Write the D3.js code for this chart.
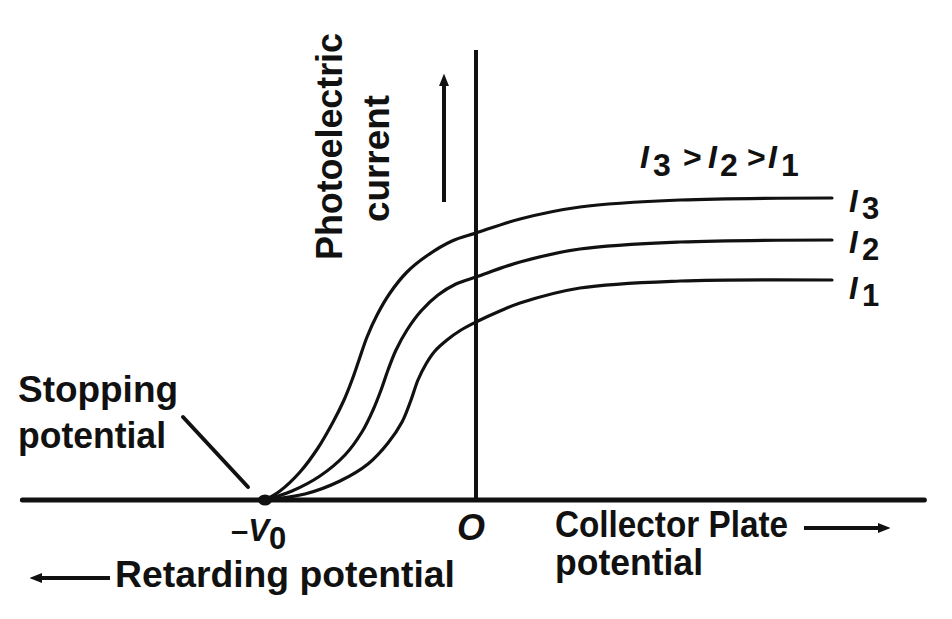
<!DOCTYPE html>
<html>
<head>
<meta charset="utf-8">
<script src="https://cdn.jsdelivr.net/npm/d3@7"></script>
<style>
  html, body { margin: 0; padding: 0; background: #fff; }
  svg { display: block; }
  text { font-family: "Liberation Sans", Arial, Helvetica, sans-serif; font-weight: bold; fill: #111; }
</style>
</head>
<body>
<svg id="chart" width="952" height="619"></svg>
<script>
// ---- data (voltage in units of V0/2, current in arbitrary units) ----
const seriesNames = ["I3", "I2", "I1"];
const voltageI3 = [-2, -1.858, -1.668, -1.498, -1.355, -1.251, -1.175, -1.109, -1.033, -0.938, -0.815, -0.654, -0.455, -0.227, 0, 0.417, 0.986, 1.934, 3.374];
const currentI3 = [0, 0.09, 0.28, 0.52, 0.78, 1.00, 1.20, 1.40, 1.63, 1.85, 2.07, 2.28, 2.45, 2.59, 2.67, 2.81, 2.93, 3.00, 3.02];
const voltageI2 = [-2, -1.744, -1.479, -1.242, -1.081, -0.976, -0.900, -0.834, -0.758, -0.654, -0.521, -0.360, -0.190, 0, 0.417, 0.986, 1.934, 3.374];
const currentI2 = [0, 0.09, 0.24, 0.45, 0.68, 0.90, 1.10, 1.30, 1.50, 1.70, 1.89, 2.05, 2.16, 2.23, 2.38, 2.51, 2.58, 2.60];
const voltageI1 = [-2, -1.621, -1.289, -1.024, -0.834, -0.701, -0.616, -0.550, -0.474, -0.389, -0.275, -0.142, 0, 0.227, 0.417, 0.986, 1.934, 3.374];
const currentI1 = [0, 0.06, 0.19, 0.36, 0.57, 0.78, 1.00, 1.20, 1.36, 1.49, 1.60, 1.70, 1.78, 1.89, 1.97, 2.12, 2.19, 2.20];
const stoppingVoltage = -2;
const xAxisExtent = [-4.3, 4.25];
const yAxisExtent = [0, 4.5];

const svg = d3.select("#chart");
const x = d3.scaleLinear().domain([-2, 0]).range([265, 476]);
const y = d3.scaleLinear().domain([0, 1]).range([500, 400]);

const defs = svg.append("defs");
defs.append("marker").attr("id", "head")
  .attr("viewBox", "0 0 10 10").attr("refX", 5).attr("refY", 5)
  .attr("markerWidth", 3.2).attr("markerHeight", 3.2).attr("orient", "auto")
  .append("path").attr("d", "M0,1 L10,5 L0,9 Z").attr("fill", "#111");

// axes
svg.append("line")
  .attr("x1", x(xAxisExtent[0])).attr("x2", x(xAxisExtent[1]))
  .attr("y1", y(0)).attr("y2", y(0))
  .attr("stroke", "#111").attr("stroke-width", 5).attr("stroke-linecap", "round");
svg.append("line")
  .attr("x1", x(0)).attr("x2", x(0))
  .attr("y1", y(yAxisExtent[0])).attr("y2", y(yAxisExtent[1]))
  .attr("stroke", "#111").attr("stroke-width", 4);

// curves
const series = [
  { name: "I3", v: voltageI3, c: currentI3 },
  { name: "I2", v: voltageI2, c: currentI2 },
  { name: "I1", v: voltageI1, c: currentI1 }
];
const line = d3.line().x(d => x(d[0])).y(d => y(d[1])).curve(d3.curveCatmullRom.alpha(0.5));
svg.selectAll("path.curve").data(series).enter().append("path")
  .attr("class", "curve")
  .attr("d", s => line(s.v.map((v, i) => [v, s.c[i]])))
  .attr("fill", "none").attr("stroke", "#111").attr("stroke-width", 3.2)
  .attr("stroke-linecap", "round");

// stopping potential dot
svg.append("ellipse").attr("cx", x(stoppingVoltage)).attr("cy", y(0))
  .attr("rx", 7).attr("ry", 5.5).attr("fill", "#111");

// leader line
svg.append("line").attr("x1", 183).attr("y1", 417).attr("x2", 248).attr("y2", 487)
  .attr("stroke", "#111").attr("stroke-width", 4).attr("stroke-linecap", "round");

// text helper
function label(txt, xx, yy, size, width, opts = {}) {
  const t = svg.append("text").attr("x", xx).attr("y", yy)
    .attr("font-size", size).text(txt);
  if (width) t.attr("textLength", width).attr("lengthAdjust", "spacingAndGlyphs");
  if (opts.italic) t.attr("font-style", "italic");
  return t;
}

label("Stopping", 18, 402, 36, 160);
label("potential", 18, 448, 36, 148);
label("Collector Plate", 555, 537, 36, 233);
label("potential", 555, 575, 36, 148);
label("Retarding potential", 115, 587, 36, 340);

// -V0
const v0 = svg.append("text").attr("x", 231).attr("y", 541).attr("font-size", 31);
v0.append("tspan").text("\u2013");
v0.append("tspan").attr("font-style", "italic").text("V");
v0.append("tspan").attr("dy", 8).attr("font-size", 31).text("0");

// O
label("O", 457, 540, 36, null, { italic: true });

// rotated y label
svg.append("text").attr("font-size", 36)
  .attr("transform", "translate(342,260) rotate(-90)")
  .attr("textLength", 227).attr("lengthAdjust", "spacingAndGlyphs")
  .text("Photoelectric");
svg.append("text").attr("font-size", 36)
  .attr("transform", "translate(389,222) rotate(-90)")
  .attr("textLength", 127).attr("lengthAdjust", "spacingAndGlyphs")
  .text("current");

// arrows
svg.append("line").attr("x1", 444).attr("y1", 202).attr("x2", 444).attr("y2", 80)
  .attr("stroke", "#111").attr("stroke-width", 4).attr("marker-end", "url(#head)");
svg.append("line").attr("x1", 804).attr("y1", 528).attr("x2", 884).attr("y2", 528)
  .attr("stroke", "#111").attr("stroke-width", 4).attr("marker-end", "url(#head)");
svg.append("line").attr("x1", 110).attr("y1", 578).attr("x2", 36).attr("y2", 578)
  .attr("stroke", "#111").attr("stroke-width", 4).attr("marker-end", "url(#head)");

// relation text I3 > I2 > I1
const rel = svg.append("text").attr("y", 168).attr("font-size", 32);
const relParts = [
  { t: "I", x: 640, dy: 0, it: true },
  { t: "3", x: 653, dy: 8 },
  { t: ">", x: 683, dy: -8 },
  { t: "I", x: 708, dy: 0, it: true },
  { t: "2", x: 720, dy: 8 },
  { t: ">", x: 747, dy: -8 },
  { t: "I", x: 768, dy: 0, it: true },
  { t: "1", x: 781, dy: 8 }
];
relParts.forEach(p => {
  const ts = rel.append("tspan").attr("x", p.x).attr("dy", p.dy).text(p.t);
  if (p.it) ts.attr("font-style", "italic");
});

// series end labels
const endLabels = [
  { name: "I", sub: "3", yb: 212 },
  { name: "I", sub: "2", yb: 253 },
  { name: "I", sub: "1", yb: 299 }
];
endLabels.forEach(l => {
  const t = svg.append("text").attr("x", 849).attr("y", l.yb).attr("font-size", 31);
  t.append("tspan").attr("font-style", "italic").text(l.name);
  t.append("tspan").attr("x", 862).attr("dy", 7).text(l.sub);
});
</script>
</body>
</html>
